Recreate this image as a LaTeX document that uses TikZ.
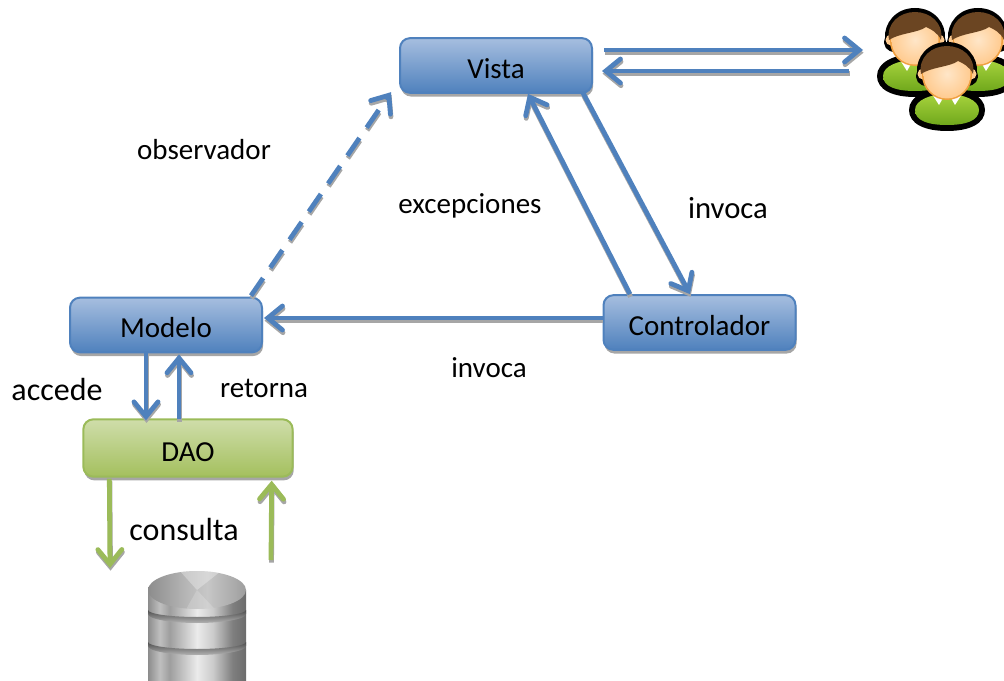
\documentclass[tikz,border=0pt]{standalone}
\usepackage{fontspec}
\setmainfont{Carlito}
\usetikzlibrary{arrows.meta,shadows}
\definecolor{bluel}{HTML}{4F81BD}
\definecolor{bluetop}{HTML}{A6BEDF}
\definecolor{greenl}{HTML}{9BBB59}
\definecolor{greentop}{HTML}{CFDDAA}
\definecolor{greenbot}{HTML}{A4C05E}
\definecolor{shadowg}{HTML}{A6A6A6}
\definecolor{hairc}{HTML}{6B4522}
\definecolor{facein}{HTML}{FFE6C8}
\definecolor{faceout}{HTML}{FFCB90}
\definecolor{rimc}{HTML}{F0A040}
\definecolor{bodyt}{HTML}{A6D23C}
\definecolor{bodyb}{HTML}{70A81C}
\pgfdeclarehorizontalshading{metal}{100bp}{color(0bp)=(black!45);color(25bp)=(black!45);color(31bp)=(black!25);color(36bp)=(black!38);color(50bp)=(black!8);color(58bp)=(black!20);color(68bp)=(black!50);color(75bp)=(black!58);color(100bp)=(black!58)}
\pgfdeclarehorizontalshading{metaltop}{100bp}{color(0bp)=(black!45);color(25bp)=(black!45);color(45bp)=(black!28);color(55bp)=(black!22);color(75bp)=(black!38);color(100bp)=(black!38)}
\tikzset{
  x=0.75pt,y=-0.75pt,
  boxbase/.style={rounded corners=7.5pt,minimum width=144pt,inner sep=0pt,text height=20pt,text depth=.5pt,
    font=\fontsize{21.75}{26}\selectfont,line width=1.5pt,
    drop shadow={shadow xshift=.8pt,shadow yshift=-2.8pt,fill=shadowg,opacity=1}},
  bluebox/.style={boxbase,draw=bluel,top color=bluetop,bottom color=bluel,minimum height=41pt},
  greenbox/.style={boxbase,draw=greenl,top color=greentop,bottom color=greenbot,minimum height=43pt,minimum width=157pt},
  flowbase/.style={line width=3.6pt,-{Straight Barb[length=11pt,width=18pt,line cap=round,line join=miter]}},
  bluearrow/.style={flowbase,draw=bluel},
  greenarrow/.style={flowbase,draw=greenl},
  flowshadow/.style={draw=shadowg,transform canvas={xshift=.4pt,yshift=-2pt}},
  dashedflow/.style={dash pattern=on 16pt off 9.5pt},
  lab/.style={inner sep=0pt,font=\fontsize{21.75}{26}\selectfont},
  labbig/.style={inner sep=0pt,font=\fontsize{24}{28}\selectfont},
  labmid/.style={inner sep=0pt,font=\fontsize{23}{27}\selectfont},
}
% connector with its shadow: options, from, to
\newcommand{\conn}[3]{%
  \draw[#1,flowshadow] #2 -- #3;
  \draw[#1] #2 -- #3;}
\newcommand{\person}[2]{%
 \begin{scope}[shift={(#1,#2)}]
  \fill[black] (-38,38) .. controls (-38,24) and (-20,16) .. (0,16) .. controls (20,16) and (38,24) .. (38,38) .. controls (38,52) and (22,59) .. (0,59) .. controls (-22,59) and (-38,52) .. (-38,38) -- cycle;
  \shade[top color=bodyt,bottom color=bodyb]
    (-32,38) .. controls (-32,28) and (-16,22) .. (0,22) .. controls (16,22) and (32,28) .. (32,38) .. controls (32,49) and (18,53) .. (0,53) .. controls (-18,53) and (-32,49) .. (-32,38) -- cycle;
  \fill[white] (-15,22) -- (-4,26) -- (-8,33) -- cycle;
  \fill[white] (15,22) -- (4,26) -- (8,33) -- cycle;
  \fill[black] (0,-30) .. controls (-20,-30) and (-31,-14) .. (-30,0) .. controls (-33,8) and (-28,14) .. (-20,14) -- (20,14) .. controls (28,14) and (33,8) .. (30,0) .. controls (31,-14) and (20,-30) .. (0,-30) -- cycle;
  \fill[faceout] (-24,2) circle[radius=5.5] (24,2) circle[radius=5.5];
  \fill[rimc] (0,3) ellipse[x radius=25,y radius=25];
  \shade[inner color=facein,outer color=faceout] (0,2) ellipse[x radius=23.5,y radius=24.5];
  \fill[hairc] (-26,2) .. controls (-29,-15) and (-15,-26) .. (0,-26) .. controls (15,-26) and (29,-15) .. (26,2) .. controls (23,-5) and (16,-9) .. (11,-11) .. controls (3,-5) and (-16,-5) .. (-26,2) -- cycle;
 \end{scope}}
\newcommand{\dbband}[1]{% dark gap between two tiers; #1 = y at the edge
  \shade[top color=black!70,bottom color=black!30] (148,#1) arc[start angle=180,end angle=0,x radius=49,y radius=7] -- (246,#1+4) arc[start angle=0,end angle=180,x radius=49,y radius=9] -- cycle;}
\begin{document}
\begin{tikzpicture}
\useasboundingbox (0,0) rectangle (1004,681);
% database
\shade[shading=metal] (148,590) rectangle (246,690);
\dbband{610}
\dbband{642}
\shade[shading=metaltop] (197,590) ellipse[x radius=49,y radius=19];
\begin{scope}
  \clip (197,590) ellipse[x radius=49,y radius=19];
  \fill[white,opacity=.3] (197,590) -- (170,560) -- (235,560) -- cycle;
  \fill[white,opacity=.18] (197,590) -- (180,620) -- (225,620) -- cycle;
\end{scope}
% people
\person{915}{38}
\person{978}{38}
\person{947}{72}
% nodes
\node[bluebox] (vista) at (496,65.5) {Vista};
\node[bluebox] (modelo) at (166,325) {Modelo};
\node[bluebox] (ctrl) at (699.5,322.5) {Controlador};
\node[greenbox] (dao) at (188,448) {DAO};
\coordinate (uin) at (863,50);
\coordinate (uout) at (849,71);
\coordinate (dbin) at (110,568);
\coordinate (dbout) at (271,560);
% connectors
\conn{bluearrow}{([shift={(11,-15.5)}]vista.east)}{(uin)}
\conn{bluearrow}{(uout)}{([shift={(9,5.5)}]vista.east)}
\conn{bluearrow}{([shift={(-10,-1)}]vista.south east)}{([shift={(-9.5,0)}]ctrl.north)}
\conn{bluearrow}{([shift={(27.5,0)}]ctrl.north west)}{([shift={(32,0)}]vista.south)}
\conn{bluearrow}{([shift={(0,-4.5)}]ctrl.west)}{([shift={(1,-7)}]modelo.east)}
\conn{bluearrow,dashedflow}{([shift={(-12,-1)}]modelo.north east)}{([shift={(-8,55)}]vista.north west)}
\conn{bluearrow}{([shift={(-20,0)}]modelo.south)}{([shift={(-42,2)}]dao.north)}
\conn{bluearrow}{([shift={(-9,1)}]dao.north)}{([shift={(13,1)}]modelo.south)}
\conn{greenarrow}{([shift={(27,1)}]dao.south west)}{(dbin)}
\conn{greenarrow}{(dbout)}{([shift={(-22,3)}]dao.south east)}
% labels
\node[lab] (l1) at (204,150) {observador};
\node[lab] (l2) at (470,206) {excepciones};
\node[labmid] (l3) at (728,208) {invoca};
\node[lab] (l4) at (489,368) {invoca};
\node[labbig] (l5) at (57,390) {accede};
\node[lab] (l6) at (264,388) {retorna};
\node[labbig] (l7) at (184,530) {consulta};
\end{tikzpicture}
\end{document}
